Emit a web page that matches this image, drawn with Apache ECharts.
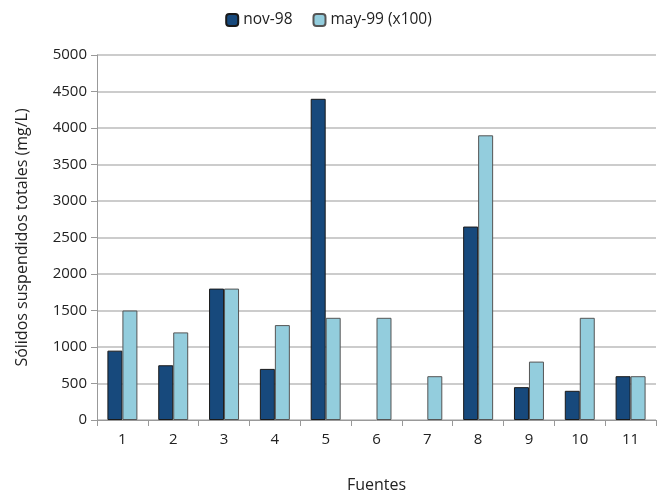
<!DOCTYPE html>
<html><head><meta charset="utf-8">
<script src="https://cdn.jsdelivr.net/npm/echarts@6/dist/echarts.min.js"></script>
<style>html,body{margin:0;padding:0;background:#fff}#c{width:657px;height:498px}</style>
</head><body><div id="c"></div>
<script>
const categories = ['1','2','3','4','5','6','7','8','9','10','11'];
const nov98 = [950, 750, 1800, 700, 4400, 0, 0, 2650, 450, 400, 600];
const may99 = [1500, 1200, 1800, 1300, 1400, 1400, 600, 3900, 800, 1400, 600];
const seriesNames = ['nov-98', 'may-99 (x100)'];
const font = '"Open Sans", "Liberation Sans", sans-serif';
const toItems = arr => arr.map(v => v === 0 ? {value: v, itemStyle: {borderWidth: 0}} : v);
const chart = echarts.init(document.getElementById('c'));
chart.setOption({
  animation: false,
  textStyle: {fontFamily: font},
  legend: {
    top: 7, left: 'center', itemWidth: 12, itemHeight: 12, itemGap: 20,
    textStyle: {fontFamily: font, fontSize: 15.5, color: '#222'},
    data: seriesNames
  },
  grid: {left: 97, right: 1, top: 55, bottom: 76},
  xAxis: {
    type: 'category', data: categories,
    name: 'Fuentes', nameLocation: 'middle', nameGap: 57,
    nameTextStyle: {fontFamily: font, fontSize: 16, color: '#222'},
    axisLine: {lineStyle: {color: '#999'}},
    axisTick: {show: true, length: 6, lineStyle: {color: '#999'}},
    axisLabel: {fontFamily: font, fontSize: 15, color: '#222', margin: 12}
  },
  yAxis: {
    type: 'value', min: 0, max: 5000, interval: 500,
    name: 'Sólidos suspendidos totales (mg/L)', nameLocation: 'middle', nameGap: 67,
    nameTextStyle: {fontFamily: font, fontSize: 16, color: '#222'},
    axisLine: {show: true, lineStyle: {color: '#999'}},
    axisTick: {show: true, length: 6, lineStyle: {color: '#999'}},
    axisLabel: {fontFamily: font, fontSize: 15, color: '#222', margin: 10, formatter: v => String(v)},
    splitLine: {lineStyle: {color: '#bbb', width: 1.5}}
  },
  series: [
    {name: seriesNames[0], type: 'bar', data: toItems(nov98), barGap: '0%', barCategoryGap: '41%',
     itemStyle: {color: '#17497c', borderColor: '#1a1a1a', borderWidth: 1}},
    {name: seriesNames[1], type: 'bar', data: toItems(may99), barGap: '0%', barCategoryGap: '41%',
     itemStyle: {color: '#93cddd', borderColor: '#555', borderWidth: 1}}
  ]
});
</script></body></html>
